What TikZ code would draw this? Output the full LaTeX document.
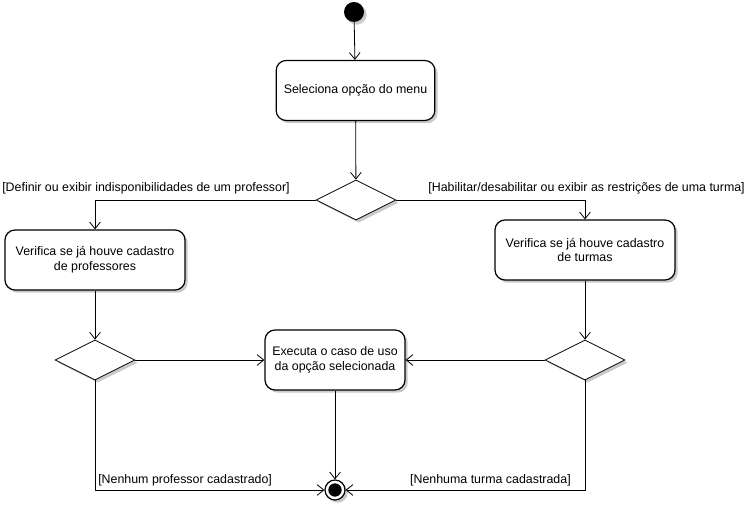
\documentclass[tikz,border=0pt]{standalone}
\usepackage{fontspec}
\setmainfont{Liberation Sans}
\usetikzlibrary{arrows.meta,shapes.geometric,shadows}
\begin{document}
\begin{tikzpicture}[x=0.75pt,y=-0.75pt,
  font=\fontsize{9.3}{11.2}\selectfont,
  shad/.style={drop shadow={shadow xshift=2pt,shadow yshift=-2pt,fill=black!35,opacity=0.6}},
  act/.style={draw,thick,fill=white,rounded corners=7.5pt,minimum width=135pt,minimum height=45pt,align=center,inner sep=2pt,shad,line width=0.9pt},
  dec/.style={draw,fill=white,diamond,aspect=2,minimum width=60pt,minimum height=30pt,inner sep=0pt,shad,line width=0.6pt},
  flow/.style={draw,line width=0.6pt,-{Straight Barb[length=5pt,width=8pt]}},
  lbl/.style={inner sep=0pt}
]
\useasboundingbox (0,0) rectangle (749,505);
\node[circle,fill=black,minimum size=15pt,inner sep=0pt,shad] (start) at (354,12) {};
\node[act,minimum width=119pt] (menu) at (355.5,90.5) {Seleciona opção do menu};
\node[dec] (d0) at (356,200) {};
\node[act] (vp) at (95,260) {Verifica se já houve cadastro\\de professores};
\node[act] (vt) at (585,250) {Verifica se já houve cadastro\\de turmas};
\node[dec] (dl) at (95,360) {};
\node[dec] (dr) at (585,360) {};
\node[act,minimum width=105pt] (ex) at (335,360) {Executa o caso de uso\\da opção selecionada};
\node[circle,draw,fill=white,line width=0.9pt,minimum size=15pt,inner sep=0pt,shad] (end) at (335,490) {};
\node[circle,fill=black,minimum size=10pt,inner sep=0pt] (endc) at (end) {};

\node[lbl,anchor=west] (l1) at (2,188) {[Definir ou exibir indisponibilidades de um professor]};
\node[lbl,anchor=east] (l2) at (745,188) {[Habilitar/desabilitar ou exibir as restrições de uma turma]};
\node[lbl,anchor=west] (l3) at (98,480) {[Nenhum professor cadastrado]};
\node[lbl,anchor=east] (l4) at (571,480) {[Nenhuma turma cadastrada]};

\path[flow] (start) -- (menu);
\path[flow] (menu) -- (d0);
\path[flow] (d0.west) -| (vp.north);
\path[flow] (d0.east) -| (vt.north);
\path[flow] (vp) -- (dl);
\path[flow] (vt) -- (dr);
\path[flow] (dl.east) -- (ex.west);
\path[flow] (dr.west) -- (ex.east);
\path[flow] (ex) -- (end);
\path[flow] (dl.south) |- (end.west);
\path[flow] (dr.south) |- (end.east);
\end{tikzpicture}
\end{document}
